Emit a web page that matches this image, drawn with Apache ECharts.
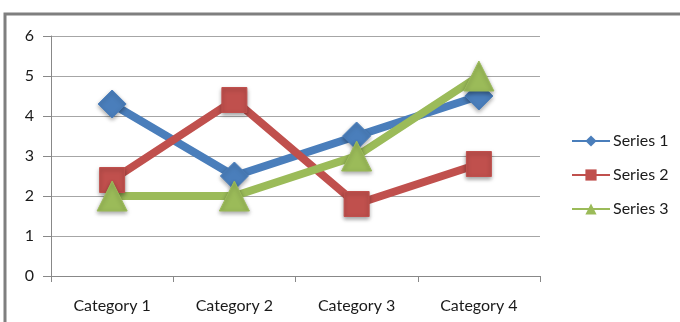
<!DOCTYPE html>
<html><head><meta charset="utf-8">
<script src="https://cdn.jsdelivr.net/npm/echarts@6/dist/echarts.min.js"></script>
<style>html,body{margin:0;padding:0;background:#fff}#c{width:680px;height:322px}</style>
</head><body><div id="c"></div>
<script>
const categories = ['Category 1','Category 2','Category 3','Category 4'];
const series1 = [4.3, 2.5, 3.5, 4.5];
const series2 = [2.4, 4.4, 1.8, 2.8];
const series3 = [2, 2, 3, 5];
const yTicks = [0,1,2,3,4,5,6];

const font = 'Lato, "Open Sans", sans-serif';
const chart = echarts.init(document.getElementById('c'));
function mk(name, data, color, symbol, size) {
  return {
    name, type: 'line', data, symbol, symbolSize: size,
    lineStyle: { width: 8, color },
    itemStyle: { color, borderColor: color, shadowBlur: 4, shadowColor: 'rgba(0,0,0,0.35)', shadowOffsetY: 2 },
    emphasis: { disabled: true }
  };
}
chart.setOption({
  animation: false,
  graphic: [{ type: 'rect', shape: { x: 5, y: 14, width: 720, height: 400 },
    style: { fill: 'none', stroke: '#7f7f7f', lineWidth: 3 } }],
  grid: { left: 51, right: 140, top: 36, bottom: 46 },
  legend: {
    orient: 'vertical', left: 566, top: 128, itemGap: 18, itemWidth: 38, itemHeight: 14,
    textStyle: { fontFamily: font, fontSize: 16, color: '#1a1a1a', padding: [0,0,0,-2] },
    data: ['Series 1','Series 2','Series 3']
  },
  xAxis: {
    type: 'category', data: categories, boundaryGap: true,
    axisLine: { lineStyle: { color: '#888' } },
    axisTick: { show: true, length: 6, lineStyle: { color: '#888' } },
    axisLabel: { fontFamily: font, fontSize: 16, color: '#1a1a1a', margin: 22 }
  },
  yAxis: {
    type: 'value', min: 0, max: 6, interval: 1,
    axisLine: { show: true, lineStyle: { color: '#888' } },
    axisTick: { show: true, length: 8, lineStyle: { color: '#888' } },
    axisLabel: { fontFamily: font, fontSize: 16, color: '#1a1a1a', margin: 17,
      formatter: v => yTicks.includes(v) ? String(v) : '' },
    splitLine: { lineStyle: { color: '#a6a6a6', width: 1 } }
  },
  series: [
    mk('Series 1', series1, '#4a7ebb', 'diamond', 28),
    mk('Series 2', series2, '#c0504d', 'rect', 25),
    mk('Series 3', series3, '#9bbb59', 'triangle', 30)
  ]
});
</script></body></html>
